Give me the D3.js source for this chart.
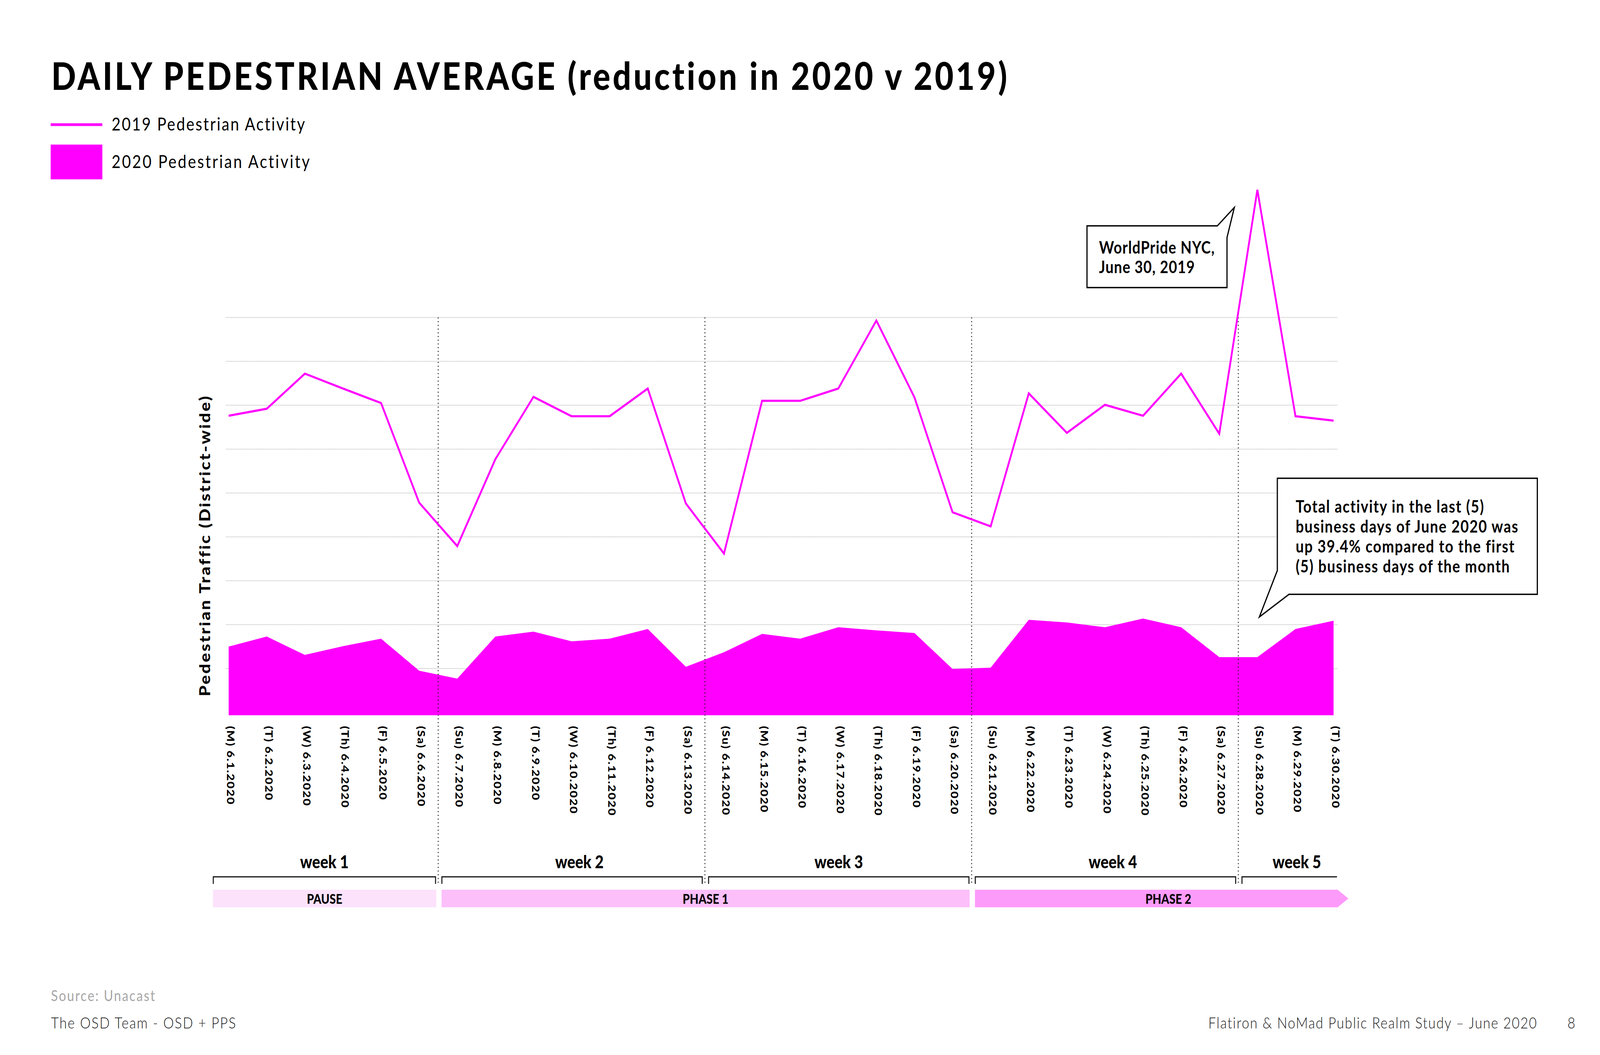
<!DOCTYPE html>
<html>
<head>
<meta charset="utf-8">
<script src="https://cdn.jsdelivr.net/npm/d3@7/dist/d3.min.js"></script>
<style>
  html, body { margin: 0; padding: 0; background: #fff; overflow: hidden; width: 100%; height: 100%; }
  svg { display: block; width: 100vw; height: 100vh; }
  text { font-family: "Lato", "Noto Sans", sans-serif; }
</style>
</head>
<body>
<svg id="chart" viewBox="0 0 4800 2700" preserveAspectRatio="none"></svg>
<script>
// ---------------- DATA ----------------
const days = ["(M) 6.1.2020","(T) 6.2.2020","(W) 6.3.2020","(Th) 6.4.2020","(F) 6.5.2020","(Sa) 6.6.2020",
  "(Su) 6.7.2020","(M) 6.8.2020","(T) 6.9.2020","(W) 6.10.2020","(Th) 6.11.2020","(F) 6.12.2020","(Sa) 6.13.2020",
  "(Su) 6.14.2020","(M) 6.15.2020","(T) 6.16.2020","(W) 6.17.2020","(Th) 6.18.2020","(F) 6.19.2020","(Sa) 6.20.2020",
  "(Su) 6.21.2020","(M) 6.22.2020","(T) 6.23.2020","(W) 6.24.2020","(Th) 6.25.2020","(F) 6.26.2020","(Sa) 6.27.2020",
  "(Su) 6.28.2020","(M) 6.29.2020","(T) 6.30.2020"];

// values in gridline units
const ped2019 = [6.76, 6.92, 7.72, 7.38, 7.05, 4.78, 3.79, 5.77, 7.19, 6.75, 6.75, 7.38, 4.76,
  3.62, 7.10, 7.10, 7.38, 8.93, 7.18, 4.56, 4.24, 7.27, 6.37, 7.01, 6.76, 7.72, 6.35, 11.91, 6.75, 6.65];
const ped2020 = [1.50, 1.73, 1.31, 1.51, 1.68, 0.95, 0.77, 1.73, 1.84, 1.62, 1.68, 1.90, 1.04,
  1.37, 1.79, 1.68, 1.94, 1.87, 1.81, 0.99, 1.02, 2.11, 2.05, 1.94, 2.14, 1.94, 1.26, 1.26, 1.90, 2.09];

const gridTicks = [1, 2, 3, 4, 5, 6, 7, 8, 9];

const weekLabels = ["week 1", "week 2", "week 3", "week 4", "week 5"];
const weekStart = [0, 6, 13, 20, 27];
const weekEnd   = [5, 12, 19, 26, 29];

const phaseLabels = ["PAUSE", "PHASE 1", "PHASE 2"];
const phaseStart = [0, 6, 20];
const phaseEnd   = [5, 19, 29];
const phaseColors = ["#fde2fb", "#fcbffa", "#fd9bfb"];

const legendLabels = ["2019 Pedestrian Activity", "2020 Pedestrian Activity"];
const titleText = "DAILY PEDESTRIAN AVERAGE (reduction in 2020 v 2019)";
const yTitle = "Pedestrian Traffic (District-wide)";
const note1 = ["WorldPride NYC,", "June 30, 2019"];
const note2 = ["Total activity in the last (5)", "business days of June 2020 was",
  "up 39.4% compared to the first", "(5) business days of the month"];

// ---------------- LAYOUT ----------------
const MAG = "#ff00ff";
const svg = d3.select("#chart");
const plotLeft = 678, plotRight = 4013, plotBottom = 1830.5;

const x = d3.scaleLinear().domain([0, days.length - 1]).range([686, 4000.7]);
const y = d3.scaleLinear().domain([0, 9]).range([1823.2, 812.5]);

function fitWidth(sel, target) {
  sel.each(function() {
    const n = this.getNumberOfChars();
    const w = this.getComputedTextLength();
    const ls = (target - w) / n;
    d3.select(this).attr("letter-spacing", ls.toFixed(2));
  });
}

// title
svg.append("text").attr("x", 154).attr("y", 230)
  .attr("font-size", 97).attr("font-weight", 900).attr("fill", "#000")
  .text(titleText).call(fitWidth, 2876);

// legend
svg.append("line").attr("x1", 152).attr("x2", 307).attr("y1", 319).attr("y2", 319)
  .attr("stroke", MAG).attr("stroke-width", 7);
svg.append("rect").attr("x", 152).attr("y", 370).attr("width", 155).attr("height", 89).attr("fill", MAG);
svg.append("text").attr("x", 335).attr("y", 334).attr("font-size", 46).attr("font-weight", 400)
  .text(legendLabels[0]).call(fitWidth, 584);
svg.append("text").attr("x", 335).attr("y", 430).attr("font-size", 46).attr("font-weight", 400)
  .text(legendLabels[1]).call(fitWidth, 599);

// gridlines
svg.append("g").selectAll("line").data(gridTicks).join("line")
  .attr("x1", plotLeft).attr("x2", plotRight)
  .attr("y1", d => y(d)).attr("y2", d => y(d))
  .attr("stroke", "#b4b4b4").attr("stroke-width", 2).attr("stroke-dasharray", "2,2");

// 2020 area
const area = d3.area().x((d, i) => x(i)).y0(plotBottom).y1(d => y(d));
svg.append("path").datum(ped2020).attr("d", area).attr("fill", MAG);

// week separators (dotted verticals)
const boundaries = weekStart.slice(1).map(s => x(s - 0.5));
svg.append("g").selectAll("line").data(boundaries).join("line")
  .attr("x1", d => d).attr("x2", d => d).attr("y1", y(9)).attr("y2", 2266)
  .attr("stroke", "#222").attr("stroke-width", 3).attr("stroke-dasharray", "2.5,7");

// 2019 line
const line = d3.line().x((d, i) => x(i)).y(d => y(d));
svg.append("path").datum(ped2019).attr("d", line)
  .attr("fill", "none").attr("stroke", MAG).attr("stroke-width", 5.5).attr("stroke-linejoin", "miter");

// date labels
const lbl = svg.append("g").selectAll("text").data(days).join("text")
  .attr("transform", (d, i) => `translate(${x(i) + 6},1858) rotate(90)`)
  .attr("dy", "0.35em").attr("font-size", 31).attr("font-weight", 900)
  .text(d => d);
{
  const ref = lbl.filter((d, i) => i === 6).node();
  const ls = (209.5 - ref.getComputedTextLength()) / ref.getNumberOfChars();
  lbl.attr("letter-spacing", ls.toFixed(2));
}

// y title
svg.append("text").attr("transform", "translate(615,1396) rotate(-90)")
  .attr("text-anchor", "middle").attr("dy", "0.35em")
  .attr("font-size", 44).attr("font-weight", 900).text(yTitle).call(fitWidth, 770);

// week brackets
const bx = i => x(i - 0.5);
const wk = svg.append("g");
weekLabels.forEach((lab, k) => {
  const l = bx(weekStart[k]) + 11;
  const r = Math.min(bx(weekEnd[k] + 1) - 8, plotRight - 2);
  const hasRight = k < weekLabels.length - 1;
  const p = d3.path();
  p.moveTo(l, 2262); p.lineTo(l, 2244); p.lineTo(r, 2244);
  if (hasRight) p.lineTo(r, 2262);
  wk.append("path").attr("d", p.toString()).attr("fill", "none")
    .attr("stroke", "#111").attr("stroke-width", 3);
  wk.append("text").attr("x", (l + r) / 2 + (k % 2 === 1 || k === 4 ? 22 : 0)).attr("y", 2222).attr("text-anchor", "middle")
    .attr("font-size", 45).attr("font-weight", 900).text(lab);
});

// phase bars
const ph = svg.append("g");
phaseLabels.forEach((lab, k) => {
  const l = bx(phaseStart[k]) + 10;
  const last = k === phaseLabels.length - 1;
  const r = last ? plotRight : bx(phaseEnd[k] + 1) - 6;
  const top = 2277, bot = 2322, mid = (top + bot) / 2;
  const p = d3.path();
  p.moveTo(l, top); p.lineTo(r, top);
  if (last) p.lineTo(r + 32, mid);
  p.lineTo(r, bot); p.lineTo(l, bot); p.closePath();
  ph.append("path").attr("d", p.toString()).attr("fill", phaseColors[k]);
  ph.append("text").attr("x", last ? (l + r + 32) / 2 + 20 : (l + r) / 2).attr("y", 2313)
    .attr("text-anchor", "middle").attr("font-size", 34).attr("font-weight", 900).text(lab);
});

// callout 1
svg.append("path")
  .attr("d", "M3261,578 L3652,578 L3703,531 L3681,608 L3681,736 L3261,736 Z")
  .attr("fill", "#fff").attr("stroke", "#000").attr("stroke-width", 3.5).attr("stroke-linejoin", "miter");
const n1 = svg.append("g").selectAll("text").data(note1).join("text")
  .attr("x", 3297).attr("y", (d, i) => 649 + i * 50)
  .attr("font-size", 43).attr("font-weight", 700).text(d => d);
{
  const ref = n1.filter((d, i) => i === 0).node();
  const ls = (348 - ref.getComputedTextLength()) / ref.getNumberOfChars();
  n1.attr("letter-spacing", ls.toFixed(2));
}

// callout 2
svg.append("path")
  .attr("d", "M3832,1224 L4612,1224 L4612,1521 L3867,1521 L3778,1579 L3832,1460 Z")
  .attr("fill", "#fff").attr("stroke", "#000").attr("stroke-width", 3.5).attr("stroke-linejoin", "miter");
const n2 = svg.append("g").selectAll("text").data(note2).join("text")
  .attr("x", 3887).attr("y", (d, i) => 1312 + i * 51)
  .attr("font-size", 43).attr("font-weight", 700).text(d => d);
{
  const ref = n2.filter((d, i) => i === 1).node();
  const ls = (669 - ref.getComputedTextLength()) / ref.getNumberOfChars();
  n2.attr("letter-spacing", ls.toFixed(2));
}

// footer
svg.append("text").attr("x", 153).attr("y", 2562).attr("font-size", 38).attr("font-weight", 400)
  .attr("fill", "#a6a6a6").text("Source: Unacast").call(fitWidth, 315);
svg.append("text").attr("x", 153).attr("y", 2632).attr("font-size", 40).attr("font-weight", 300)
  .attr("fill", "#1a1a1a").text("The OSD Team - OSD + PPS").call(fitWidth, 557);
svg.append("text").attr("x", 3625).attr("y", 2632).attr("font-size", 40).attr("font-weight", 300)
  .attr("fill", "#1a1a1a").text("Flatiron & NoMad Public Realm Study – June 2020").call(fitWidth, 988);
svg.append("text").attr("x", 4714).attr("y", 2632).attr("text-anchor", "middle").attr("font-size", 40)
  .attr("font-weight", 300).attr("fill", "#1a1a1a").text("8");
</script>
</body>
</html>
